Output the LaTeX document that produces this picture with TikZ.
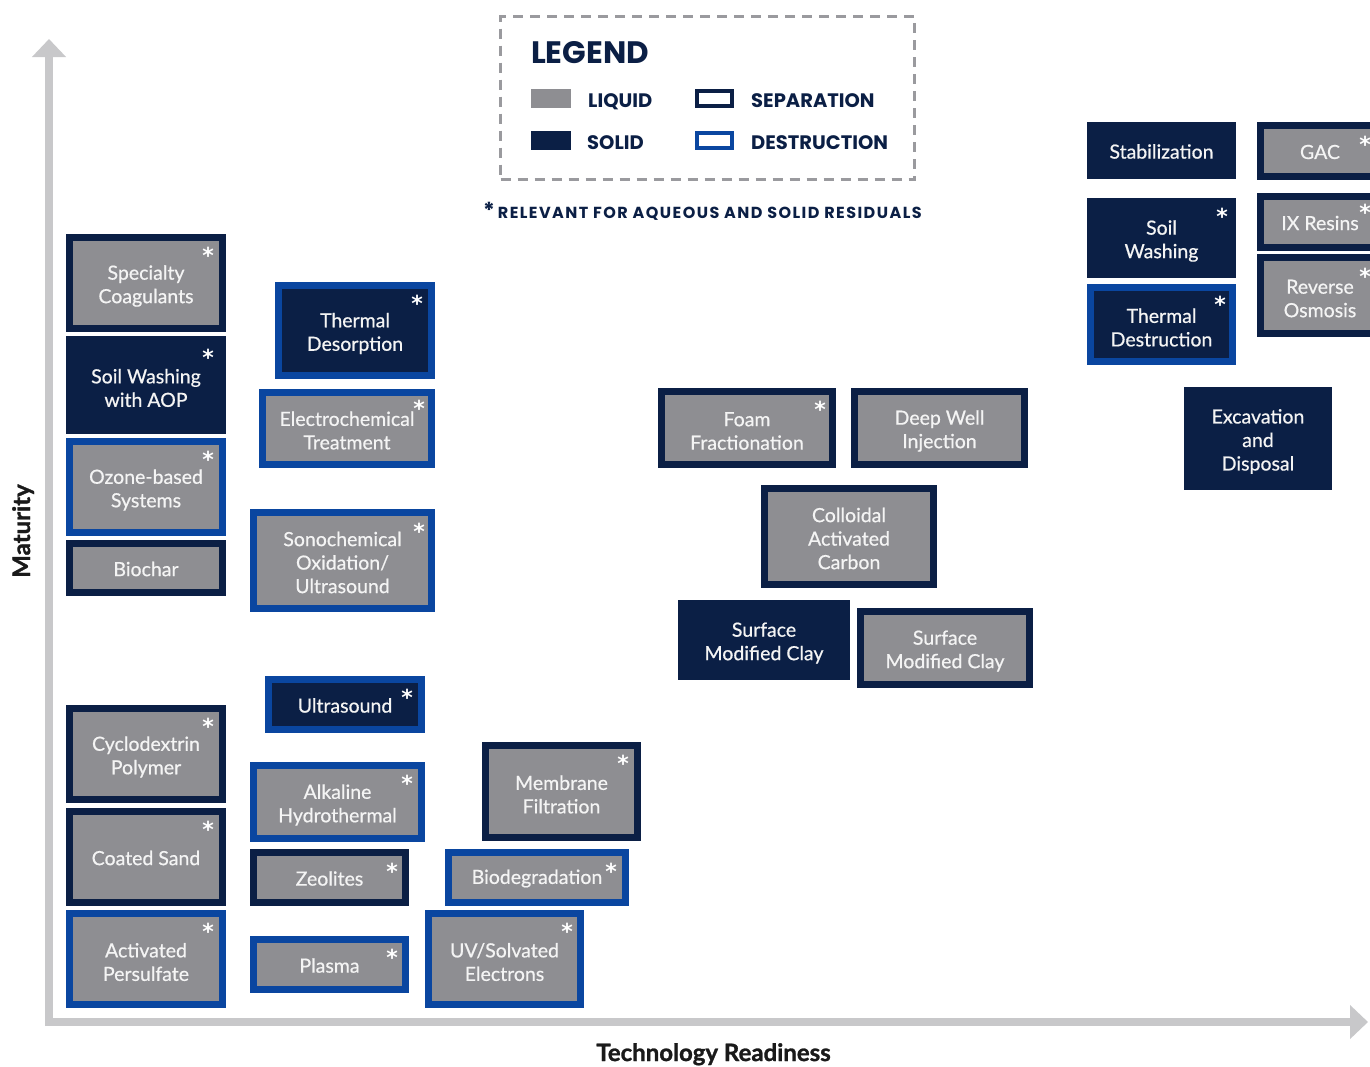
\documentclass[tikz,border=0pt]{standalone}
\usepackage{fontspec}
\setmainfont{Lato}
\newfontfamily\boxfont{Lato}[FakeBold=0.6]
\newfontfamily\axisfont{Lato}[FakeBold=1.2]
\newfontfamily\legfont{Poppins}
\newfontfamily\astfont{DejaVu Sans}
\usetikzlibrary{arrows.meta}
\definecolor{navy}{HTML}{0B1F45}
\definecolor{dblue}{HTML}{0A46A0}
\definecolor{tgray}{HTML}{8E8E92}
\definecolor{axisgray}{HTML}{C8C8CA}
\definecolor{legdash}{HTML}{9A9A9E}
\definecolor{boxtext}{HTML}{F4F4F4}
\definecolor{labeltext}{HTML}{1A1A1A}
\begin{document}
\begin{tikzpicture}[x=1pt,y=-1pt,
  box/.style={draw, line width=7pt, inner sep=0pt, outer sep=0pt},
  liqsep/.style={box, fill=tgray, draw=navy},
  liqdes/.style={box, fill=tgray, draw=dblue},
  solsep/.style={box, fill=navy, draw=navy},
  soldes/.style={box, fill=navy, draw=dblue},
  sz/.style 2 args={minimum width=#1, minimum height=#2},
  btext/.style={inner sep=0pt, align=center, text=boxtext, font=\boxfont\fontsize{19.5}{23.5}\selectfont},
  ast/.style={text=white, inner sep=0pt, outer sep=0pt, yshift=-4.5pt, font=\astfont\bfseries\fontsize{22}{22}\selectfont},
  swatch/.style={inner sep=0pt, outer sep=0pt, minimum width=40pt, minimum height=19pt},
  swoutline/.style={inner sep=0pt, outer sep=0pt, line width=4pt, fill=white, minimum width=35pt, minimum height=15pt},
  legitem/.style={anchor=base west, inner sep=0pt, text=navy, font=\legfont\bfseries\fontsize{19.5}{19.5}\selectfont},
  axisline/.style={draw=axisgray, line width=8pt},
  axislabel/.style={anchor=base, inner sep=0pt, text=labeltext, font=\axisfont\bfseries\fontsize{24}{24}\selectfont}
]
\clip (0,0) rectangle (1370,1066);
\fill[white] (0,0) rectangle (1370,1066);

% axes
\coordinate (ybot) at (49,1026);
\coordinate (ytip) at (49,39);
\coordinate (xbeg) at (45,1022);
\coordinate (xtip) at (1368,1022);
\draw[axisline, -{Triangle[width=33pt,length=18pt]}] (ybot) -- (ytip);
\draw[axisline, -{Triangle[width=33pt,length=18pt]}] (xbeg) -- (xtip);
\node[axislabel, rotate=90] (ylab) at (30,531) {Maturity};
\node[axislabel] (xlab) at (713.5,1061) {Technology Readiness};

% legend
\node[draw=legdash, dash pattern=on 10pt off 7pt, line width=3pt, minimum width=414pt, minimum height=163pt, inner sep=0pt, outer sep=0pt] (legend) at (707.5,98) {};
\node[anchor=base west, inner sep=0pt, text=navy, font=\legfont\bfseries\fontsize{31}{31}\selectfont] (legtitle) at (531,63) {LEGEND};
\node[swatch, fill=tgray] (swliq) at (551,98.5) {};
\node[swatch, fill=navy] (swsol) at (551,140.5) {};
\node[swoutline, draw=navy] (swsep) at (714.5,98.5) {};
\node[swoutline, draw=dblue] (swdes) at (714.5,140.5) {};
\node[legitem] (tliq) at (588,107) {LIQUID};
\node[legitem] (tsol) at (587,149) {SOLID};
\node[legitem] (tsep) at (751,107) {SEPARATION};
\node[legitem] (tdes) at (751,149) {DESTRUCTION};
\node[anchor=base west, inner sep=0pt, text=navy, font=\legfont\bfseries\fontsize{16}{16}\selectfont\addfontfeatures{LetterSpace=9}] (note) at (483,218) {{\fontsize{22}{22}\selectfont*}\hspace{3pt}RELEVANT FOR AQUEOUS AND SOLID RESIDUALS};

% left column
\node[liqsep, sz={153}{91}] (sc) at (146,283) {};
\node[solsep, sz={153}{91}] (swaop) at (146,385) {};
\node[liqdes, sz={153}{91}] (ozone) at (146,487) {};
\node[liqsep, sz={153}{49}] (biochar) at (146,568) {};
\node[liqsep, sz={153}{91}] (cyclo) at (146,754) {};
\node[liqsep, sz={153}{91}] (coated) at (146,857) {};
\node[liqdes, sz={153}{91}] (persulf) at (146,959) {};
% second column
\node[soldes, sz={153}{90}] (tdesorp) at (355,330.5) {};
\node[liqdes, sz={169}{72}] (electro) at (347,428.5) {};
\node[liqdes, sz={178}{96}] (sono) at (342.5,560.5) {};
\node[soldes, sz={153}{50}] (ultra) at (345,704.5) {};
\node[liqdes, sz={168}{73}] (alk) at (337.5,802) {};
\node[liqsep, sz={152}{50}] (zeol) at (329.5,877.5) {};
\node[liqdes, sz={152}{50}] (plasma) at (329.5,964.5) {};
% third column
\node[liqsep, sz={152}{92}] (membr) at (561.5,791.5) {};
\node[liqdes, sz={177}{50}] (biodeg) at (537,877.5) {};
\node[liqdes, sz={152}{91}] (uv) at (504.5,959) {};
% middle group
\node[liqsep, sz={171}{73}] (foam) at (747,428) {};
\node[liqsep, sz={170}{73}] (deep) at (939.5,428) {};
\node[liqsep, sz={169}{96}] (colloid) at (849,536.5) {};
\node[solsep, sz={165}{73}] (smcs) at (764,640) {};
\node[liqsep, sz={169}{73}] (smcl) at (945,648) {};
% right group
\node[solsep, sz={142}{50}] (stab) at (1161.5,150.5) {};
\node[liqsep, sz={119}{51}] (gac) at (1320,151) {};
\node[solsep, sz={142}{73}] (sw) at (1161.5,238) {};
\node[soldes, sz={142}{74}] (tdest) at (1161.5,324.5) {};
\node[liqsep, sz={119}{51}] (ix) at (1320,222) {};
\node[liqsep, sz={119}{76}] (ro) at (1320,295.5) {};
\node[solsep, sz={141}{96}] (excav) at (1258,438.5) {};

% box texts
\node[btext] (sc-t) at ([yshift=-3pt]sc.center) {Specialty\\Coagulants};
\node[btext] (swaop-t) at ([yshift=-3pt]swaop.center) {Soil Washing\\with AOP};
\node[btext] (ozone-t) at ([yshift=-3pt]ozone.center) {Ozone-based\\Systems};
\node[btext] (biochar-t) at ([yshift=-1pt]biochar.center) {Biochar};
\node[btext] (cyclo-t) at ([yshift=-3pt]cyclo.center) {Cyclodextrin\\Polymer};
\node[btext] (coated-t) at ([yshift=-1pt]coated.center) {Coated Sand};
\node[btext] (persulf-t) at ([yshift=-3pt]persulf.center) {Activated\\Persulfate};
\node[btext] (tdesorp-t) at ([yshift=-3pt]tdesorp.center) {Thermal\\Desorption};
\node[btext] (electro-t) at ([yshift=-2pt]electro.center) {Electrochemical\\Treatment};
\node[btext] (sono-t) at ([yshift=-2pt]sono.center) {Sonochemical\\Oxidation/\\Ultrasound};
\node[btext] (ultra-t) at ([yshift=-1pt]ultra.center) {Ultrasound};
\node[btext] (alk-t) at ([yshift=-3pt]alk.center) {Alkaline\\Hydrothermal};
\node[btext] (zeol-t) at ([yshift=-1pt]zeol.center) {Zeolites};
\node[btext] (plasma-t) at ([yshift=-1pt]plasma.center) {Plasma};
\node[btext] (membr-t) at ([yshift=-3pt]membr.center) {Membrane\\Filtration};
\node[btext] (biodeg-t) at ([yshift=-1pt]biodeg.center) {Biodegradation};
\node[btext] (uv-t) at ([yshift=-3pt]uv.center) {UV/Solvated\\Electrons};
\node[btext] (foam-t) at ([yshift=-3pt]foam.center) {Foam\\Fractionation};
\node[btext] (deep-t) at ([yshift=-3pt]deep.center) {Deep Well\\Injection};
\node[btext] (colloid-t) at ([yshift=-2pt]colloid.center) {Colloidal\\Activated\\Carbon};
\node[btext] (smcs-t) at ([yshift=-3pt]smcs.center) {Surface\\Modified Clay};
\node[btext] (smcl-t) at ([yshift=-3pt]smcl.center) {Surface\\Modified Clay};
\node[btext] (stab-t) at ([yshift=-1pt]stab.center) {Stabilization};
\node[btext] (gac-t) at ([yshift=-1pt]gac.center) {GAC};
\node[btext] (sw-t) at ([yshift=-3pt]sw.center) {Soil\\Washing};
\node[btext] (tdest-t) at ([yshift=-3pt]tdest.center) {Thermal\\Destruction};
\node[btext] (ix-t) at ([yshift=-1pt]ix.center) {IX Resins};
\node[btext] (ro-t) at ([yshift=-3pt]ro.center) {Reverse\\Osmosis};
\node[btext] (excav-t) at ([yshift=-3pt]excav.center) {Excavation\\and\\Disposal};

% asterisks
\node[ast] (sc-a) at ([shift={(-14.5,13.5)}]sc.north east) {*};
\node[ast] (swaop-a) at ([shift={(-14.5,13.5)}]swaop.north east) {*};
\node[ast] (ozone-a) at ([shift={(-14.5,13.5)}]ozone.north east) {*};
\node[ast] (cyclo-a) at ([shift={(-14.5,13.5)}]cyclo.north east) {*};
\node[ast] (coated-a) at ([shift={(-14.5,13.5)}]coated.north east) {*};
\node[ast] (persulf-a) at ([shift={(-14.5,13.5)}]persulf.north east) {*};
\node[ast] (tdesorp-a) at ([shift={(-14.5,13.5)}]tdesorp.north east) {*};
\node[ast] (electro-a) at ([shift={(-12.5,11.5)}]electro.north east) {*};
\node[ast] (sono-a) at ([shift={(-12.5,14.5)}]sono.north east) {*};
\node[ast] (ultra-a) at ([shift={(-14.5,13.5)}]ultra.north east) {*};
\node[ast] (alk-a) at ([shift={(-14.5,13.5)}]alk.north east) {*};
\node[ast] (zeol-a) at ([shift={(-13.5,14.5)}]zeol.north east) {*};
\node[ast] (plasma-a) at ([shift={(-13.5,13.5)}]plasma.north east) {*};
\node[ast] (membr-a) at ([shift={(-14.5,13.5)}]membr.north east) {*};
\node[ast] (biodeg-a) at ([shift={(-14.5,14.5)}]biodeg.north east) {*};
\node[ast] (uv-a) at ([shift={(-13.5,13.5)}]uv.north east) {*};
\node[ast] (foam-a) at ([shift={(-12.5,13.5)}]foam.north east) {*};
\node[ast] (sw-a) at ([shift={(-10.5,10.5)}]sw.north east) {*};
\node[ast] (tdest-a) at ([shift={(-12.5,12.5)}]tdest.north east) {*};
\node[ast] (gac-a) at ([shift={(-14.5,14.5)}]gac.north east) {*};
\node[ast] (ix-a) at ([shift={(-14.5,11.5)}]ix.north east) {*};
\node[ast] (ro-a) at ([shift={(-14.5,14.5)}]ro.north east) {*};
\end{tikzpicture}
\end{document}
